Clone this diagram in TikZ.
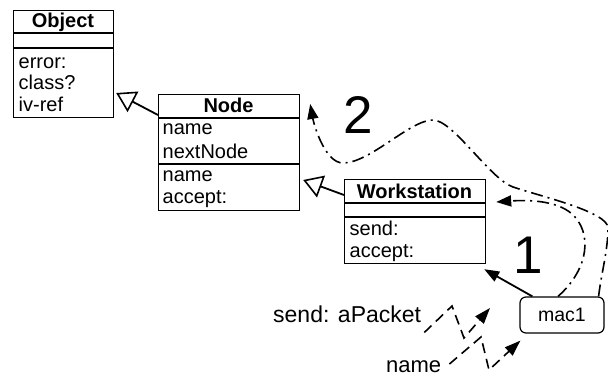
\documentclass[tikz,border=0pt]{standalone}
\usepackage{fontspec}
\setmainfont{Liberation Sans}
\usetikzlibrary{arrows.meta,calc}
\begin{document}
\begin{tikzpicture}[x=1pt,y=-1pt,
  classbox/.style={draw, line width=1.2pt, inner sep=0pt, anchor=north west},
  sepline/.style={line width=1.2pt},
  boxtxt/.style={anchor=base west, inner sep=0pt, font=\fontsize{20}{24}\selectfont},
  boxtitle/.style={anchor=base, inner sep=0pt, font=\bfseries\fontsize{20}{24}\selectfont},
  lbl/.style={anchor=base west, inner sep=0pt, font=\fontsize{23}{27}\selectfont},
  digit/.style={anchor=base, inner sep=0pt, font=\fontsize{53}{60}\selectfont},
  inherit/.style={line width=1.8pt, -{Triangle[open,length=19pt,width=23pt,line width=1.6pt]}},
  msg/.style={line width=1.8pt, -{Triangle[length=15pt,width=11pt]}},
  dashdotline/.style={line width=1.6pt, dash pattern=on 12pt off 5pt on 2pt off 5pt, -{Triangle[length=15pt,width=11pt]}},
  dashline/.style={line width=1.6pt, dash pattern=on 10pt off 6pt, -{Triangle[length=16pt,width=11pt]}}
]
\useasboundingbox (0,0) rectangle (608,377);

% Object
\node[classbox, minimum width=100pt, minimum height=107pt] (object) at (13,10) {};
\draw[sepline] (13,33) -- (113,33);
\draw[sepline] (13,48) -- (113,48);
\node[boxtitle] (objt) at (63,28) {Object};
\node[boxtxt] (obj1) at (18.5,69) {error:};
\node[boxtxt] (obj2) at (18.5,90) {class?};
\node[boxtxt] (obj3) at (18.5,111.5) {iv-ref};

% Node
\node[classbox, minimum width=141pt, minimum height=116pt] (nodecls) at (158,94) {};
\draw[sepline] (158,118) -- (299,118);
\draw[sepline] (158,164) -- (299,164);
\node[boxtitle] (nodet) at (228.5,113) {Node};
\node[boxtxt] (node1) at (162.5,135) {name};
\node[boxtxt] (node2) at (162.5,159) {nextNode};
\node[boxtxt] (node3) at (162.5,182) {name};
\node[boxtxt] (node4) at (162.5,204) {accept:};

% Workstation
\node[classbox, minimum width=141pt, minimum height=84pt] (ws) at (344,179) {};
\draw[sepline] (344,203) -- (485,203);
\draw[sepline] (344,217) -- (485,217);
\node[boxtitle] (wst) at (414.5,198) {Workstation};
\node[boxtxt] (ws1) at (349.5,235.5) {send:};
\node[boxtxt] (ws2) at (349.5,257) {accept:};

% mac1
\node[draw, line width=1.2pt, rounded corners=6pt, minimum width=84pt, minimum height=36pt,
      inner sep=0pt, font=\fontsize{19.5}{23}\selectfont] (mac1) at (562,315) {mac1};

% labels
\node[lbl] (sendlbl) at (273,322.5) {send: aPacket};
\node[lbl, font=\fontsize{22}{26}\selectfont] (namelbl) at (386,372) {name};
\node[digit] (one) at (528,273) {1};
\node[digit] (two) at (358,134) {2};

% inheritance
\draw[inherit] ($(nodecls.north west)+(0,21)$) -- ($(object.north east)+(2,83)$);
\draw[inherit] ($(ws.north west)+(0,16)$) -- ($(nodecls.north east)+(3,86)$);

% message mac1 -> Workstation
\draw[msg] ($(mac1.north west)+(13,0)$) -- ($(ws.south east)+(-2,5)$);

% dash-dot return curves
\coordinate (t1) at ($(ws.north east)+(10,23)$);
\coordinate (t2) at ($(nodecls.north east)+(10,10)$);
\draw[dashdotline] ($(mac1.north)+(-4,0)$) .. controls (590,268) and (592,232) .. (572,214)
   .. controls (556,199.6) and (525,200) .. (t1);
\draw[dashdotline] ($(mac1.north east)+(-6,0)$) .. controls (601,275) and (608,250) .. (608,228)
   .. controls (608,212) and (543,197) .. (513,187)
   .. controls (490,179) and (453,120) .. (433,120)
   .. controls (410,120) and (370,163) .. (343,163)
   .. controls (325,163) and (314,125) .. (t2);

% dashed broken messages
\coordinate (s1) at (452,306);
\coordinate (s2) at (464,338);
\coordinate (s3) at (490,308);
\draw[dashline] ($(sendlbl.base east)+(3,10)$) -- (s1) -- (s2) -- (s3);
\coordinate (n1) at (481,337);
\coordinate (n2) at (489,370);
\draw[dashline] ($(namelbl.base east)+(8,-8)$) -- (n1) -- (n2) -- ($(mac1.south west)+(1,7)$);
\end{tikzpicture}
\end{document}
